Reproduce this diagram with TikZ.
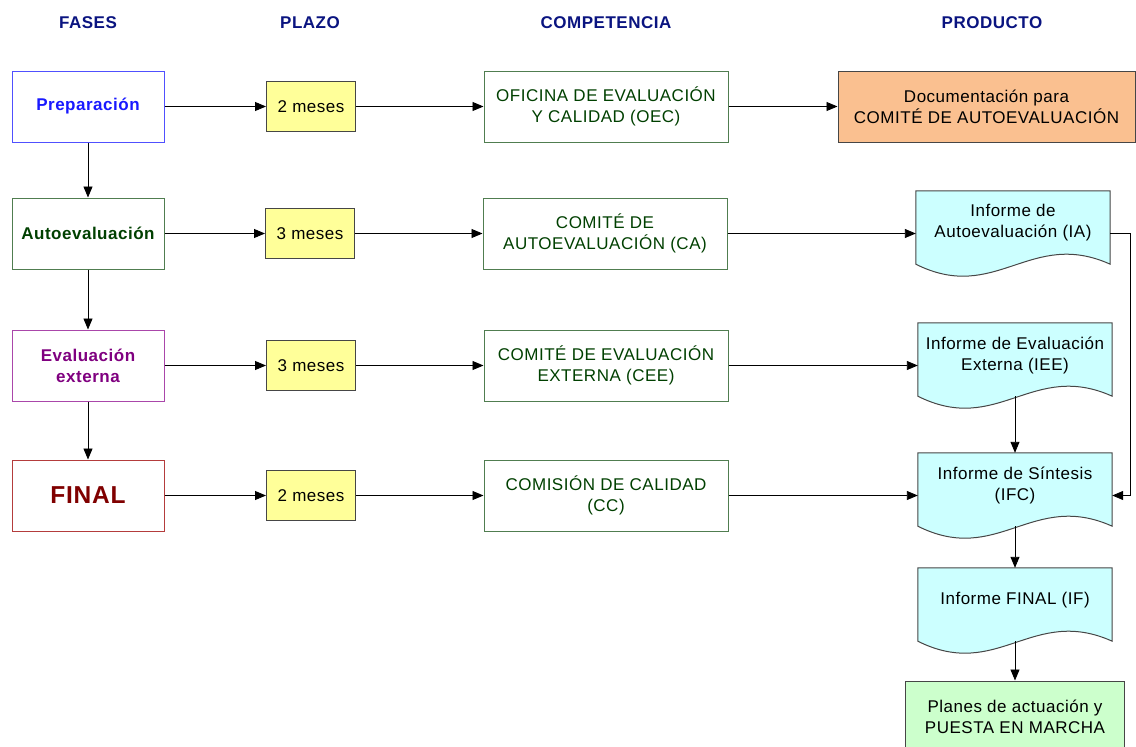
\documentclass[tikz,border=0pt]{standalone}
\usepackage{fontspec}
\setmainfont{Liberation Sans}[LetterSpace=3]
\usetikzlibrary{arrows.meta,backgrounds}
\definecolor{navy}{RGB}{10,20,128}
\definecolor{prepblue}{RGB}{25,25,255}
\definecolor{prepborder}{RGB}{80,80,255}
\definecolor{darkgreen}{RGB}{0,64,0}
\definecolor{greenborder}{RGB}{80,125,80}
\definecolor{purpletext}{RGB}{128,0,128}
\definecolor{purpleborder}{RGB}{170,70,170}
\definecolor{redtext}{RGB}{128,0,0}
\definecolor{redborder}{RGB}{180,60,60}
\definecolor{yellowbox}{RGB}{255,255,153}
\definecolor{orangebox}{RGB}{250,192,144}
\definecolor{cyanbox}{RGB}{204,255,255}
\definecolor{greenbox}{RGB}{204,255,204}
\definecolor{boxborder}{RGB}{70,70,70}
\newcommand{\docpath}[1]{%
  \begin{scope}[on background layer]
    \filldraw[docfill] (#1.north west) -- (#1.north east) -- ([yshift=-9pt]#1.south east)
      .. controls +(-80,-36) and +(80,40) .. ([yshift=-9pt]#1.south west) -- cycle;
  \end{scope}}
\begin{document}
\begin{tikzpicture}[x=1pt,y=-1pt,
  every node/.style={font=\fontsize{17}{21}\selectfont, align=center, inner sep=0pt},
  arr/.style={draw=black, line width=0.9pt, -{Triangle[length=11pt,width=9pt]}},
  header/.style={font=\fontsize{17}{21}\selectfont\bfseries, text=navy},
  fase/.style={draw, fill=white, line width=1pt, minimum width=152pt, minimum height=71pt,
    font=\fontsize{17}{21}\selectfont\bfseries},
  plazo/.style={draw=boxborder, fill=yellowbox, line width=1pt, minimum width=89pt, minimum height=50pt},
  comp/.style={draw=greenborder, fill=white, text=darkgreen, line width=1pt,
    minimum width=244pt, minimum height=71pt},
  doc/.style={minimum width=194pt, minimum height=64pt},
  docfill/.style={draw=boxborder, fill=cyanbox, line width=1pt},
  prod/.style={draw=boxborder, line width=1pt, minimum height=71pt},
]
\useasboundingbox (0,0) rectangle (1136,747);

% headers
\node[header] (hf) at (88,23) {FASES};
\node[header] (hp) at (310,23) {PLAZO};
\node[header] (hc) at (606,23) {COMPETENCIA};
\node[header] (hr) at (992,23) {PRODUCTO};

% fases
\node[fase, draw=prepborder, text=prepblue] (prep) at (88,106.5) {Preparación};
\node[fase, draw=greenborder, text=darkgreen] (auto) at (88,233.5) {Autoevaluación};
\node[fase, draw=purpleborder, text=purpletext] (ext) at (88,365.5) {Evaluación\\externa};
\node[fase, draw=redborder, text=redtext, font=\fontsize{24.5}{28}\selectfont\bfseries] (fin) at (88,495.5) {FINAL};

% plazos
\node[plazo] (p1) at (311,106.5) {2 meses};
\node[plazo] (p2) at (310,233.5) {3 meses};
\node[plazo] (p3) at (311,365.5) {3 meses};
\node[plazo] (p4) at (311,495.5) {2 meses};

% competencias
\node[comp] (c1) at (606,106.5) {OFICINA DE EVALUACIÓN\\Y CALIDAD (OEC)};
\node[comp] (c2) at (605,233.5) {COMITÉ DE\\AUTOEVALUACIÓN (CA)};
\node[comp] (c3) at (606,365.5) {COMITÉ DE EVALUACIÓN\\EXTERNA (CEE)};
\node[comp] (c4) at (606,495.5) {COMISIÓN DE CALIDAD\\(CC)};

% productos
\node[prod, fill=orangebox, minimum width=297pt] (doc) at (986.5,106.5) {Documentación para\\COMITÉ DE AUTOEVALUACIÓN};
\node[doc] (ia) at (1013,223) {Informe de\\Autoevaluación (IA)};
\docpath{ia}
\node[doc] (iee) at (1015,355) {Informe de Evaluación\\Externa (IEE)};
\docpath{iee}
\node[doc] (ifc) at (1015,485) {Informe de Síntesis\\(IFC)};
\docpath{ifc}
\node[doc] (if) at (1015,600) {Informe FINAL (IF)};
\docpath{if}
\node[prod, fill=greenbox, minimum width=219pt] (plan) at (1015,716.5) {Planes de actuación y\\PUESTA EN MARCHA};

% vertical fase arrows
\draw[arr] (prep.south) -- (auto.north);
\draw[arr] (auto.south) -- (ext.north);
\draw[arr] (ext.south) -- (fin.north);

% rows
\draw[arr] (prep.east) -- (p1.west);
\draw[arr] (p1.east) -- (c1.west);
\draw[arr] (c1.east) -- (doc.west);

\draw[arr] (auto.east) -- (p2.west);
\draw[arr] (p2.east) -- (c2.west);
\draw[arr] (c2.east) -- (c2.east -| ia.west);

\draw[arr] (ext.east) -- (p3.west);
\draw[arr] (p3.east) -- (c3.west);
\draw[arr] (c3.east) -- (c3.east -| iee.west);

\draw[arr] (fin.east) -- (p4.west);
\draw[arr] (p4.east) -- (c4.west);
\draw[arr] (c4.east) -- (c4.east -| ifc.west);

% product flow
\coordinate (rx) at (1130,233.5);
\draw[arr] (c2.east -| ia.east) -- (rx) |- (c4.east -| ifc.east);
\draw[arr] ([yshift=-9pt]iee.south) -- (ifc.north);
\draw[arr] ([yshift=-9pt]ifc.south) -- (if.north);
\draw[arr] ([yshift=-9pt]if.south) -- (plan.north);
\end{tikzpicture}
\end{document}
